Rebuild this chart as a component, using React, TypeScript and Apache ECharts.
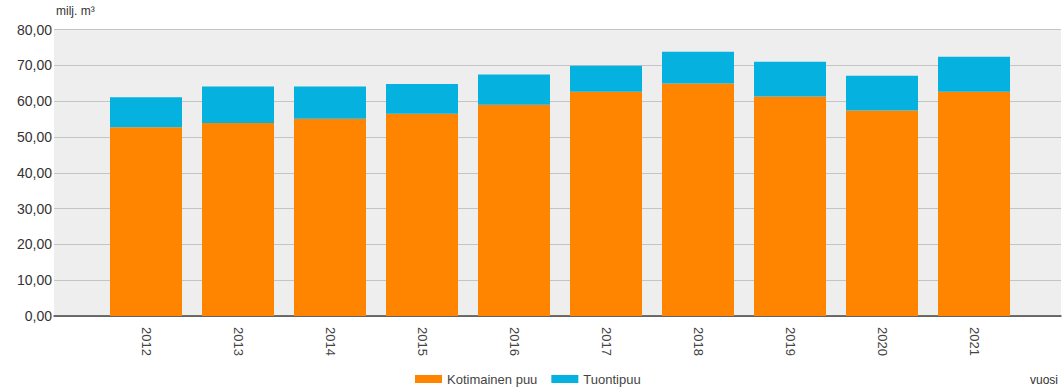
import React, { useEffect, useRef } from "react";
import * as echarts from "echarts";

const years = ["2012", "2013", "2014", "2015", "2016", "2017", "2018", "2019", "2020", "2021"];
const kotimainen = [52.7, 53.9, 55.1, 56.5, 59.0, 62.6, 64.9, 61.3, 57.4, 62.6];
const tuonti = [8.4, 10.2, 9.0, 8.3, 8.4, 7.3, 8.9, 9.7, 9.7, 9.8];
const yTicks = { min: 0, max: 80, interval: 10 };

const FONT = "'Liberation Sans', Arial, sans-serif";

export default function App() {
  const ref = useRef<HTMLDivElement>(null);
  useEffect(() => {
    if (!ref.current) return;
    const chart = echarts.init(ref.current, null, { renderer: "svg" });
    const fmt = (v: number) => v.toFixed(2).replace(".", ",");
    chart.setOption({
      animation: false,
      textStyle: { fontFamily: FONT },
      grid: [
        { left: 54, right: 3, top: 29.5, bottom: 73, show: true, backgroundColor: "#eeeeee", borderWidth: 0 },
        { left: 100, right: 44, top: 29.5, bottom: 73 },
      ],
      xAxis: [
        {
          gridIndex: 0,
          type: "category",
          data: years,
          axisLine: { show: true, lineStyle: { color: "#444444", width: 1.5 } },
          axisTick: { show: false },
          axisLabel: { show: false },
        },
        {
          gridIndex: 1,
          type: "category",
          data: years,
          axisLine: { show: false },
          axisTick: { show: false },
          axisLabel: { rotate: -90, color: "#444444", fontSize: 13, fontFamily: FONT, margin: 11 },
        },
      ],
      yAxis: [
        {
          gridIndex: 0,
          type: "value",
          ...yTicks,
          axisLine: { show: false },
          axisTick: { show: false },
          axisLabel: { color: "#333333", fontSize: 14, fontFamily: FONT, margin: 2, formatter: fmt },
          splitLine: { show: true, lineStyle: { color: "#c4c4c4", width: 1 } },
        },
        {
          gridIndex: 1,
          type: "value",
          ...yTicks,
          show: false,
          splitLine: { show: false },
        },
      ],
      legend: {
        left: 415,
        top: 372,
        padding: 0,
        itemWidth: 27,
        itemHeight: 8,
        itemGap: 14,
        icon: "rect",
        textStyle: { color: "#444444", fontSize: 13, fontFamily: FONT, lineHeight: 14 },
        data: ["Kotimainen puu", "Tuontipuu"],
      },
      series: [
        {
          name: "Kotimainen puu",
          type: "bar",
          stack: "total",
          xAxisIndex: 1,
          yAxisIndex: 1,
          barWidth: 72,
          itemStyle: { color: "#ff8400" },
          data: kotimainen,
        },
        {
          name: "Tuontipuu",
          type: "bar",
          stack: "total",
          xAxisIndex: 1,
          yAxisIndex: 1,
          barWidth: 72,
          itemStyle: { color: "#05b1df" },
          data: tuonti,
        },
      ],
      graphic: [
        {
          type: "text",
          left: 56,
          top: 5,
          style: { text: "milj. m³", fill: "#333333", fontSize: 12, fontFamily: FONT },
        },
        {
          type: "text",
          left: 1030,
          top: 374,
          style: { text: "vuosi", fill: "#333333", fontSize: 12, fontFamily: FONT },
        },
      ],
    });
    return () => chart.dispose();
  }, []);
  return <div ref={ref} style={{ width: 1064, height: 389, position: "absolute", left: 0, top: 0 }} />;
}
